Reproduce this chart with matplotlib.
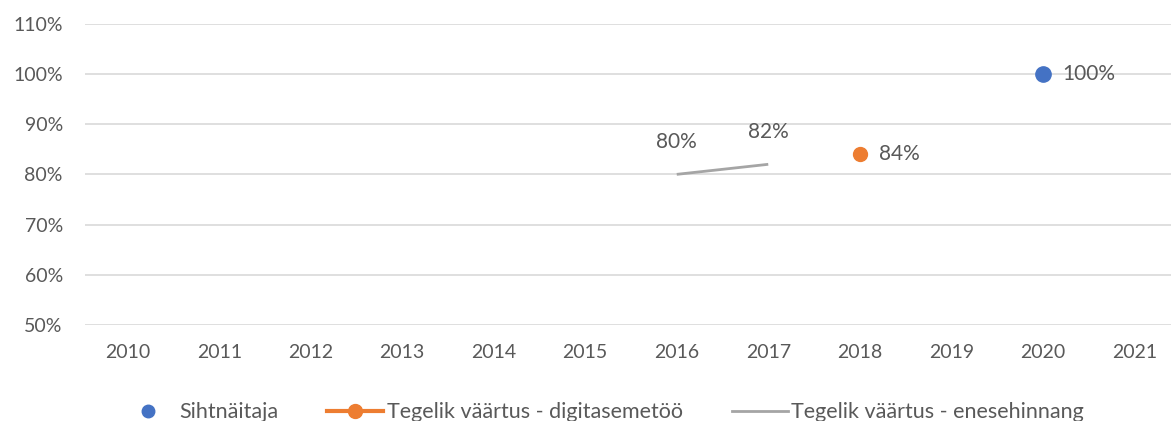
import numpy as np
import matplotlib
matplotlib.use("Agg")
import matplotlib.pyplot as plt
from matplotlib.lines import Line2D

years = ["2010", "2011", "2012", "2013", "2014", "2015",
         "2016", "2017", "2018", "2019", "2020", "2021"]
nan = np.nan
siht = [nan, nan, nan, nan, nan, nan, nan, nan, nan, nan, 1.00, nan]
digi = [nan, nan, nan, nan, nan, nan, nan, nan, 0.84, nan, nan, nan]
enese = [nan, nan, nan, nan, nan, nan, 0.80, 0.82, nan, nan, nan, nan]

names = ["Sihtnäitaja", "Tegelik väärtus - digitasemetöö",
         "Tegelik väärtus - enesehinnang"]
blue, orange, gray = "#4472C4", "#ED7D31", "#A5A5A5"
txt = "#595959"

plt.rcParams["font.family"] = ["Lato", "DejaVu Sans"]

W, H = 1171, 421
fig = plt.figure(figsize=(W / 100, H / 100), dpi=100)
left, right = 85, 1171
top, bottom = 23.7, 325
ax = fig.add_axes([left / W, 1 - bottom / H, (right - left) / W, (bottom - top) / H])

x = np.arange(len(years))
step = 91.5
x0 = -0.5 + 3 / step
ax.set_xlim(x0, x0 + (right - left) / step)
ax.set_ylim(0.5, 1.1)

ax.plot(x, enese, color=gray, lw=2, solid_capstyle="butt")
ax.plot(x, digi, color=orange, lw=2.5, marker="o", ms=10, mec=orange)
ax.plot(x, siht, ls="none", marker="o", ms=11, color=blue)

fs = 14
lfs = 15
for xi, v in zip(x, siht):
    if not np.isnan(v):
        ax.annotate(f"{v:.0%}", (xi, v), xytext=(14, 0), textcoords="offset points",
                    va="center", ha="left", fontsize=lfs, color=txt)
for xi, v in zip(x, digi):
    if not np.isnan(v):
        ax.annotate(f"{v:.0%}", (xi, v), xytext=(14, 0), textcoords="offset points",
                    va="center", ha="left", fontsize=lfs, color=txt)
for xi, v in zip(x, enese):
    if not np.isnan(v):
        ax.annotate(f"{v:.0%}", (xi, v), xytext=(0, 23), textcoords="offset points",
                    va="center", ha="center", fontsize=lfs, color=txt)

ax.set_yticks(np.arange(0.5, 1.101, 0.1))
ax.set_yticklabels([f"{v:.0%}" for v in np.arange(0.5, 1.101, 0.1)])
ax.set_xticks(x)
ax.set_xticklabels(years)
ax.tick_params(length=0, labelsize=fs, labelcolor=txt)
ax.tick_params(axis="y", pad=16)
ax.tick_params(axis="x", pad=14)
ax.grid(axis="y", color="#D9D9D9", lw=1.2)
ax.set_axisbelow(True)
for s in ax.spines.values():
    s.set_visible(False)

handles = [
    Line2D([], [], ls="none", marker="o", ms=9, color=blue),
    Line2D([], [], color=orange, lw=3, marker="o", ms=10),
    Line2D([], [], color=gray, lw=2),
]
fig.legend(handles, names, loc="center", bbox_to_anchor=(0.514, 0.021), ncol=3,
           frameon=False, fontsize=15.5, labelcolor=txt, handlelength=2.6,
           handletextpad=0.15, columnspacing=2.3)

fig.savefig("out.png", dpi=100)
